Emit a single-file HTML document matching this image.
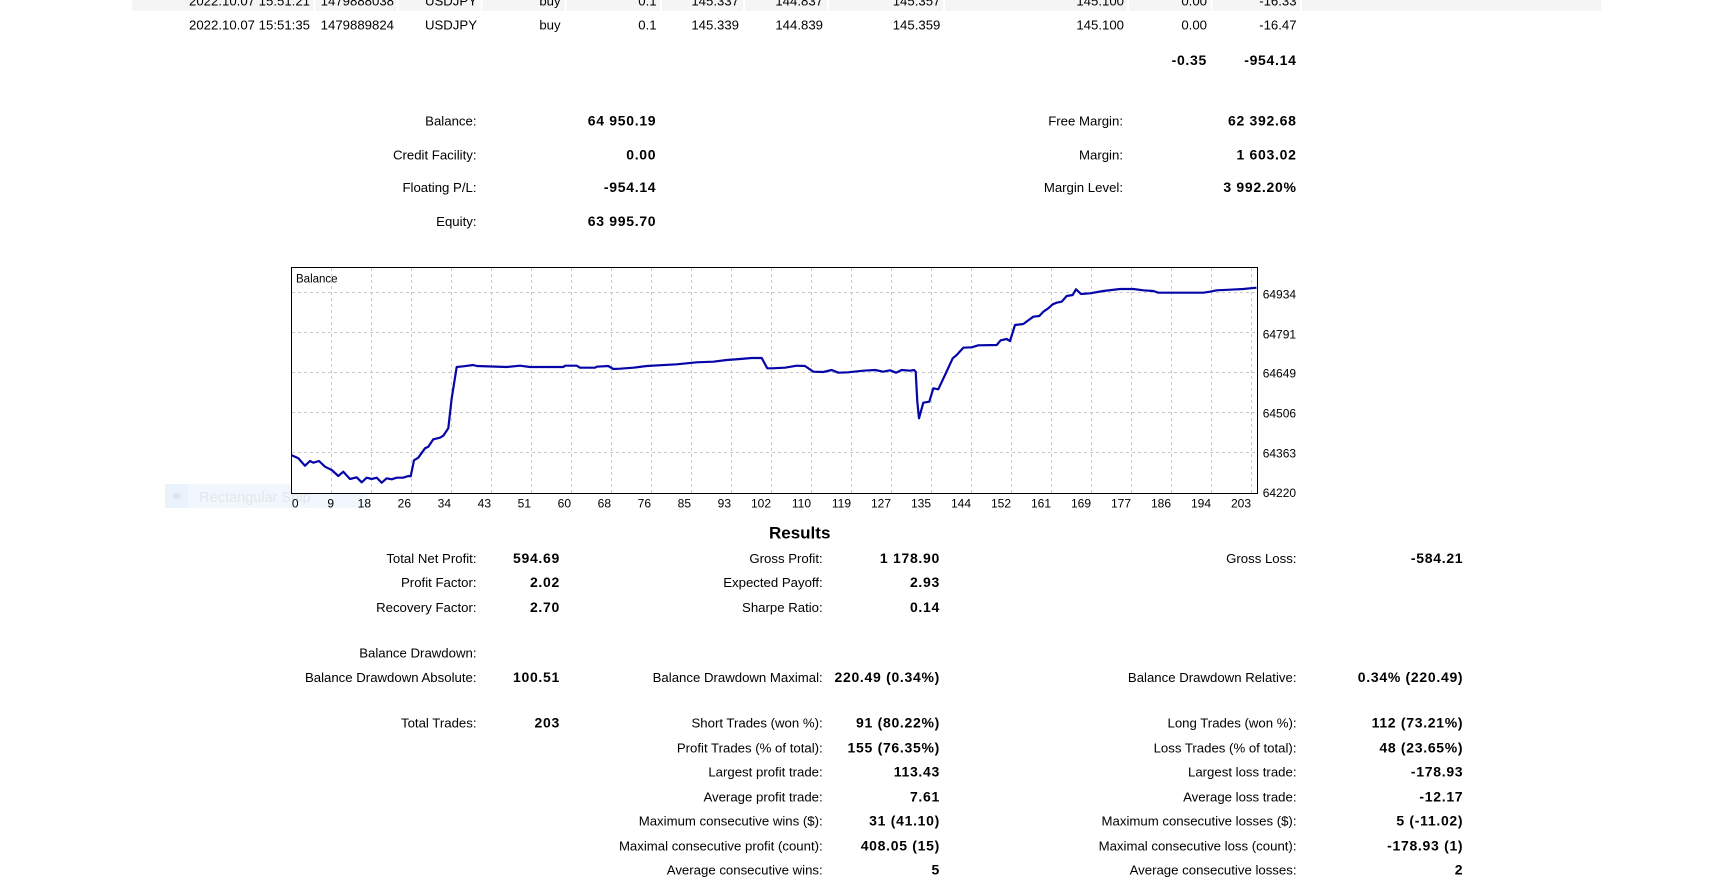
<!DOCTYPE html>
<html>
<head>
<meta charset="utf-8">
<style>
  html, body { margin:0; padding:0; background:#ffffff; }
  body { width:1709px; height:888px; overflow:hidden; }
  svg { display:block; }
  .t { font-family:"Liberation Sans", Arial, sans-serif; font-size:13.2px; fill:#000; }
  .b { font-family:"Liberation Sans", Arial, sans-serif; font-size:14px; font-weight:bold; fill:#000; letter-spacing:0.7px; }
  .ax { font-family:"Liberation Sans", Arial, sans-serif; font-size:12px; fill:#000; }
  .e { text-anchor:end; }
</style>
</head>
<body>
<svg width="1709" height="888" viewBox="0 0 1709 888" xmlns="http://www.w3.org/2000/svg">
  <rect x="0" y="0" width="1709" height="888" fill="#ffffff"/>

  <!-- top table gray row -->
  <rect x="132" y="0" width="1469" height="11" fill="#f5f5f5"/>
  <g fill="#ffffff">
    <rect x="313.5" y="0" width="2" height="11"/>
    <rect x="397" y="0" width="2" height="11"/>
    <rect x="480.5" y="0" width="2" height="11"/>
    <rect x="564.5" y="0" width="2" height="11"/>
    <rect x="660" y="0" width="2" height="11"/>
    <rect x="743" y="0" width="2" height="11"/>
    <rect x="827" y="0" width="2" height="11"/>
    <rect x="943" y="0" width="2" height="11"/>
    <rect x="1127" y="0" width="2" height="11"/>
    <rect x="1210.5" y="0" width="2" height="11"/>
    <rect x="1300" y="0" width="2" height="11"/>
  </g>

  <g class="t e">
    <text x="310" y="5.7">2022.10.07 15:51:21</text>
    <text x="394" y="5.7">1479888038</text>
    <text x="477" y="5.7">USDJPY</text>
    <text x="560.6" y="5.7">buy</text>
    <text x="656.6" y="5.7">0.1</text>
    <text x="739" y="5.7">145.337</text>
    <text x="823" y="5.7">144.837</text>
    <text x="940.4" y="5.7">145.357</text>
    <text x="1124" y="5.7">145.100</text>
    <text x="1207" y="5.7">0.00</text>
    <text x="1296.6" y="5.7">-16.33</text>

    <text x="310" y="29.3">2022.10.07 15:51:35</text>
    <text x="394" y="29.3">1479889824</text>
    <text x="477" y="29.3">USDJPY</text>
    <text x="560.6" y="29.3">buy</text>
    <text x="656.6" y="29.3">0.1</text>
    <text x="739" y="29.3">145.339</text>
    <text x="823" y="29.3">144.839</text>
    <text x="940.4" y="29.3">145.359</text>
    <text x="1124" y="29.3">145.100</text>
    <text x="1207" y="29.3">0.00</text>
    <text x="1296.6" y="29.3">-16.47</text>
  </g>
  <g class="b e">
    <text x="1207" y="64.8">-0.35</text>
    <text x="1296.6" y="64.8">-954.14</text>
  </g>

  <!-- account stats -->
  <g class="t e">
    <text x="476.5" y="125.3">Balance:</text>
    <text x="476.5" y="159.5">Credit Facility:</text>
    <text x="476.5" y="192">Floating P/L:</text>
    <text x="476.5" y="226">Equity:</text>
    <text x="1123" y="125.3">Free Margin:</text>
    <text x="1123" y="159.5">Margin:</text>
    <text x="1123" y="192">Margin Level:</text>
  </g>
  <g class="b e">
    <text x="656.3" y="125.3">64 950.19</text>
    <text x="656.3" y="159.5">0.00</text>
    <text x="656.3" y="192">-954.14</text>
    <text x="656.3" y="226">63 995.70</text>
    <text x="1296.6" y="125.3">62 392.68</text>
    <text x="1296.6" y="159.5">1 603.02</text>
    <text x="1296.6" y="192">3 992.20%</text>
  </g>

  <!-- faint snip overlay -->
  <rect x="165" y="484" width="202" height="24" fill="#f2f7fd"/>
  <rect x="165" y="484" width="23" height="24" fill="#eaf2fb"/>
  <circle cx="176.7" cy="496" r="3.6" fill="#dfe5ec"/>
  <text x="199.3" y="502" font-family="Liberation Sans, Arial, sans-serif" font-size="14.5" fill="#e3e6ea">Rectangular Snip</text>

  <!-- chart -->
  <rect x="291.5" y="267.5" width="966" height="226" fill="#ffffff"/>
  <g stroke="#c8c8c8" stroke-width="1" stroke-dasharray="3,3" fill="none">
    <path d="M331.5 268V493 M371.5 268V493 M411.5 268V493 M451.5 268V493 M491.5 268V493 M531.5 268V493 M571.5 268V493 M611.5 268V493 M651.5 268V493 M691.5 268V493 M731.5 268V493 M771.5 268V493 M811.5 268V493 M851.5 268V493 M891.5 268V493 M931.5 268V493 M971.5 268V493 M1011.5 268V493 M1051.5 268V493 M1091.5 268V493 M1131.5 268V493 M1171.5 268V493 M1211.5 268V493 M1251.5 268V493"/>
    <path d="M292 292.5H1257 M292 332.5H1257 M292 372.5H1257 M292 412.5H1257 M292 452.5H1257"/>
  </g>
  <path fill="none" stroke="#0606a8" stroke-width="2.2" stroke-linejoin="round" d="M291.7,455.3 L298.3,458.3 L305,465.7 L310,461 L313.3,462.7 L319,461 L325,466.7 L331.7,470 L338.3,476 L343.3,471.7 L350,479 L356.7,477.3 L361.7,482.3 L366.7,477.7 L371.7,479 L376.7,477.7 L381.7,482.7 L386.7,478.3 L391.7,479.3 L396.7,477.7 L403.3,477.7 L408.3,476 L410.7,476.3 L414,460.3 L418.3,457.7 L425,448.3 L428.3,446.7 L433.3,439.3 L440,437.7 L443.3,435.7 L448.3,428.3 L451.7,398.3 L456.7,367 L463.3,366.3 L473.3,365 L476.7,366 L506.7,367 L520,365.7 L530,367 L563.3,367 L565,365.7 L576.7,365.7 L580,367.7 L595,367.7 L596.7,366.7 L608.3,366 L613.3,369 L620,368.7 L633.3,367.7 L646.7,366 L676.7,364.3 L696.7,362.3 L713.3,361.7 L726.7,360 L740,359 L751.7,358 L761.7,358 L767.3,368.3 L771.7,368.3 L785,367.7 L796.7,365.7 L805,366 L813.3,371.7 L823.3,372 L831.7,370 L838.3,372.7 L848.3,372.3 L863.3,370.7 L875,370 L883.3,371.7 L890,370.3 L896,372.7 L901.7,370 L910,370.7 L914,370 L915.7,371.7 L917.3,401.7 L919,418.3 L923.3,402.7 L929.3,401.7 L933.3,388.3 L938.3,389.3 L945,375 L952.7,358.3 L956.7,355 L963.3,347.7 L971.7,347.3 L978.3,345.3 L996.7,345 L1000.7,340.3 L1006.7,339 L1010,341 L1015,325 L1023.3,324 L1033.3,316.7 L1039.3,316 L1043.3,311.7 L1048.3,308.3 L1052.7,304.3 L1056.7,302.7 L1061.7,301.7 L1066.7,296 L1072.7,295 L1076,289.3 L1081,294 L1090,293.3 L1103.3,291 L1120,289 L1133.3,289 L1143.3,290.3 L1153.3,291 L1158.3,292.7 L1203.3,292.7 L1210,291.7 L1216.7,290.3 L1230,289.7 L1243.3,289 L1256.5,287.7"/>
  <rect x="291.5" y="267.5" width="966" height="226" fill="none" stroke="#000000" stroke-width="1"/>
  <text x="296" y="282.5" font-family="Liberation Sans, Arial, sans-serif" font-size="11.5" fill="#000">Balance</text>

  <!-- x labels -->
  <g class="ax e">
    <text x="298.5" y="507.3">0</text>
    <text x="334" y="507.3">9</text>
    <text x="371" y="507.3">18</text>
    <text x="411" y="507.3">26</text>
    <text x="451" y="507.3">34</text>
    <text x="491" y="507.3">43</text>
    <text x="531" y="507.3">51</text>
    <text x="571" y="507.3">60</text>
    <text x="611" y="507.3">68</text>
    <text x="651" y="507.3">76</text>
    <text x="691" y="507.3">85</text>
    <text x="731" y="507.3">93</text>
    <text x="771" y="507.3">102</text>
    <text x="811" y="507.3">110</text>
    <text x="851" y="507.3">119</text>
    <text x="891" y="507.3">127</text>
    <text x="931" y="507.3">135</text>
    <text x="971" y="507.3">144</text>
    <text x="1011" y="507.3">152</text>
    <text x="1051" y="507.3">161</text>
    <text x="1091" y="507.3">169</text>
    <text x="1131" y="507.3">177</text>
    <text x="1171" y="507.3">186</text>
    <text x="1211" y="507.3">194</text>
    <text x="1251" y="507.3">203</text>
  </g>
  <!-- y labels -->
  <g class="ax">
    <text x="1262.7" y="298.4">64934</text>
    <text x="1262.7" y="338.4">64791</text>
    <text x="1262.7" y="377.6">64649</text>
    <text x="1262.7" y="417.7">64506</text>
    <text x="1262.7" y="457.7">64363</text>
    <text x="1262.7" y="497">64220</text>
  </g>

  <!-- Results -->
  <text x="799.7" y="538.5" text-anchor="middle" font-family="Liberation Sans, Arial, sans-serif" font-size="17" font-weight="bold" fill="#000">Results</text>

  <g class="t e">
    <text x="476.5" y="563">Total Net Profit:</text>
    <text x="476.5" y="587">Profit Factor:</text>
    <text x="476.5" y="612">Recovery Factor:</text>
    <text x="476.5" y="657.4">Balance Drawdown:</text>
    <text x="476.5" y="682">Balance Drawdown Absolute:</text>
    <text x="476.5" y="727.4">Total Trades:</text>

    <text x="822.7" y="563">Gross Profit:</text>
    <text x="822.7" y="587">Expected Payoff:</text>
    <text x="822.7" y="612">Sharpe Ratio:</text>
    <text x="822.7" y="682">Balance Drawdown Maximal:</text>
    <text x="822.7" y="727.4">Short Trades (won %):</text>
    <text x="822.7" y="752.4">Profit Trades (% of total):</text>
    <text x="822.7" y="776.4">Largest profit trade:</text>
    <text x="822.7" y="801.4">Average profit trade:</text>
    <text x="822.7" y="825.4">Maximum consecutive wins ($):</text>
    <text x="822.7" y="850.4">Maximal consecutive profit (count):</text>
    <text x="822.7" y="874.7">Average consecutive wins:</text>

    <text x="1296.5" y="563">Gross Loss:</text>
    <text x="1296.5" y="682">Balance Drawdown Relative:</text>
    <text x="1296.5" y="727.4">Long Trades (won %):</text>
    <text x="1296.5" y="752.4">Loss Trades (% of total):</text>
    <text x="1296.5" y="776.4">Largest loss trade:</text>
    <text x="1296.5" y="801.4">Average loss trade:</text>
    <text x="1296.5" y="825.4">Maximum consecutive losses ($):</text>
    <text x="1296.5" y="850.4">Maximal consecutive loss (count):</text>
    <text x="1296.5" y="874.7">Average consecutive losses:</text>
  </g>
  <g class="b e">
    <text x="560" y="563">594.69</text>
    <text x="560" y="587">2.02</text>
    <text x="560" y="612">2.70</text>
    <text x="560" y="682">100.51</text>
    <text x="560" y="727.4">203</text>

    <text x="940" y="563">1 178.90</text>
    <text x="940" y="587">2.93</text>
    <text x="940" y="612">0.14</text>
    <text x="940" y="682">220.49 (0.34%)</text>
    <text x="940" y="727.4">91 (80.22%)</text>
    <text x="940" y="752.4">155 (76.35%)</text>
    <text x="940" y="776.4">113.43</text>
    <text x="940" y="801.4">7.61</text>
    <text x="940" y="825.4">31 (41.10)</text>
    <text x="940" y="850.4">408.05 (15)</text>
    <text x="940" y="874.7">5</text>

    <text x="1463.3" y="563">-584.21</text>
    <text x="1463.3" y="682">0.34% (220.49)</text>
    <text x="1463.3" y="727.4">112 (73.21%)</text>
    <text x="1463.3" y="752.4">48 (23.65%)</text>
    <text x="1463.3" y="776.4">-178.93</text>
    <text x="1463.3" y="801.4">-12.17</text>
    <text x="1463.3" y="825.4">5 (-11.02)</text>
    <text x="1463.3" y="850.4">-178.93 (1)</text>
    <text x="1463.3" y="874.7">2</text>
  </g>
</svg>
</body>
</html>
